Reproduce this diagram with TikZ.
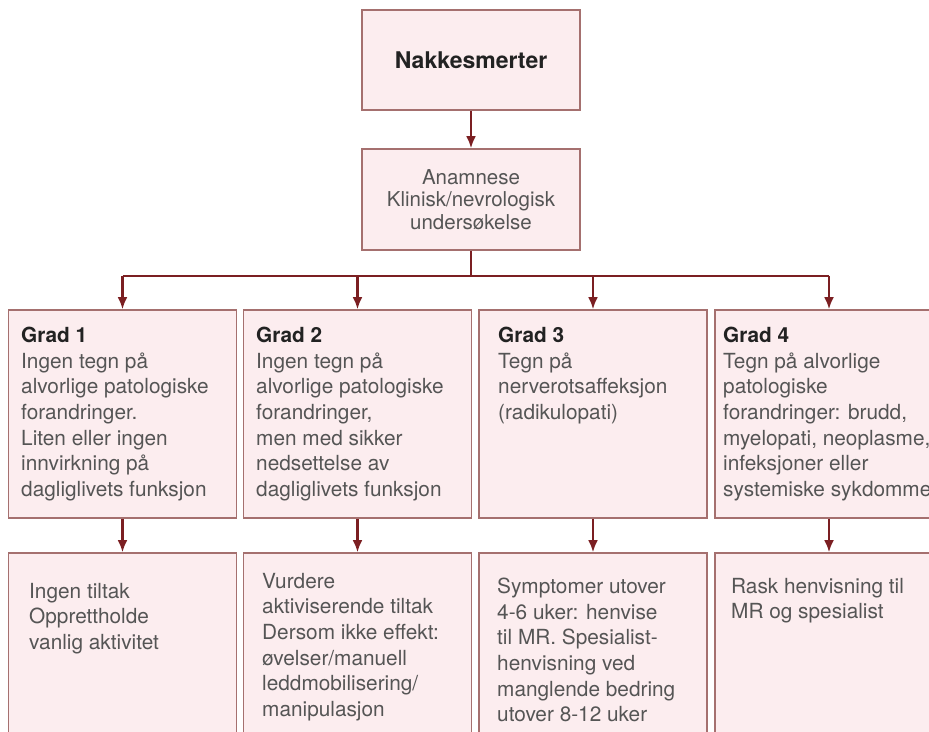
\documentclass[tikz,border=0pt]{standalone}
\usepackage{fontspec}
\setmainfont{TeX Gyre Heros}
\usetikzlibrary{arrows.meta}

\definecolor{boxfill}{HTML}{FCEDEF}
\definecolor{boxline}{HTML}{A5706F}
\definecolor{arrowred}{HTML}{7B1F22}
\definecolor{txtgray}{HTML}{555555}
\definecolor{headgray}{HTML}{222222}

\begin{document}
\begin{tikzpicture}[x=1pt,y=-1pt,>={Latex[length=12pt,width=10pt]},
  box/.style={draw=boxline,fill=boxfill,line width=1.7pt,inner sep=0pt},
  gradbox/.style={box,minimum width=228pt,minimum height=208pt},
  tiltakbox/.style={box,minimum width=228pt,minimum height=230pt},
  txt/.style={anchor=north west,align=left,inner sep=0pt,text=txtgray,
    font=\fontsize{20.8}{25.6}\selectfont},
  link/.style={draw=arrowred,line width=2.2pt}]

\useasboundingbox (0,0) rectangle (929,731);
\clip (0,0) rectangle (929,731);

% top of the chart
\node (top) at (471,60) [box,minimum width=218pt,minimum height=100pt,
  text=headgray,font=\bfseries\fontsize{23}{27}\selectfont] {\raisebox{-3pt}{Nakkesmerter}};
\node (anam) at (471,199.5) [box,minimum width=218pt,minimum height=101pt,
  align=center,text=txtgray,font=\fontsize{20.5}{22.5}\selectfont]
  {Anamnese\\Klinisk/nevrologisk\\undersøkelse};

% grades
\node (g1) at (122.5,414) [gradbox] {};
\node (g2) at (357.5,414) [gradbox] {};
\node (g3) at (593,414) [gradbox] {};
\node (g4) at (829,414) [gradbox] {};

\node (g1t) at (21,327) [txt] {\textcolor{headgray}{\bfseries Grad 1}\\Ingen tegn på\\alvorlige patologiske\\forandringer.\\Liten eller ingen\\innvirkning på\\dagliglivets funksjon};
\node (g2t) at (256,327) [txt] {\textcolor{headgray}{\bfseries Grad 2}\\Ingen tegn på\\alvorlige patologiske\\forandringer,\\men med sikker\\nedsettelse av\\dagliglivets funksjon};
\node (g3t) at (498,327) [txt] {\textcolor{headgray}{\bfseries Grad 3}\\Tegn på\\nerverotsaffeksjon\\(radikulopati)};
\node (g4t) at (723,327) [txt] {\textcolor{headgray}{\bfseries Grad 4}\\Tegn på alvorlige\\patologiske\\forandringer: brudd,\\myelopati, neoplasme,\\infeksjoner eller\\systemiske sykdommer};

% measures
\node (t1) at (122.5,668) [tiltakbox] {};
\node (t2) at (357.5,668) [tiltakbox] {};
\node (t3) at (593,668) [tiltakbox] {};
\node (t4) at (829,668) [tiltakbox] {};

\node (t1t) at (29,583) [txt] {Ingen tiltak\\Opprettholde\\vanlig aktivitet};
\node (t2t) at (262,573) [txt] {Vurdere\\aktiviserende tiltak\\Dersom ikke effekt:\\øvelser/manuell\\leddmobilisering/\\manipulasjon};
\node (t3t) at (497,578) [txt] {Symptomer utover\\4-6 uker: henvise\\til MR. Spesialist-\\henvisning ved\\manglende bedring\\utover 8-12 uker};
\node (t4t) at (731,578) [txt] {Rask henvisning til\\MR og spesialist};

% connectors
\draw[link,->] (top) -- (anam);
\draw[link] (anam.south) -- ++(0,25) coordinate (bus);
\draw[link] (g1.north |- bus) -- (g4.north |- bus);
\draw[link,->] (g1.north |- bus) -- (g1.north);
\draw[link,->] (g2.north |- bus) -- (g2.north);
\draw[link,->] (g3.north |- bus) -- (g3.north);
\draw[link,->] (g4.north |- bus) -- (g4.north);

\draw[link,->] (g1) -- (t1);
\draw[link,->] (g2) -- (t2);
\draw[link,->] (g3) -- (t3);
\draw[link,->] (g4) -- (t4);

\end{tikzpicture}
\end{document}
